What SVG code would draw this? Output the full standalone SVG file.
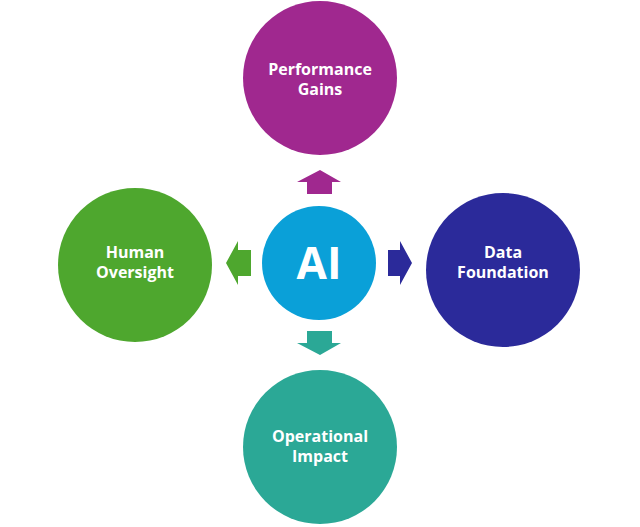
<svg xmlns="http://www.w3.org/2000/svg" width="640" height="527" viewBox="0 0 640 527">
<style>
.t{font-family:"Open Sans","Liberation Sans",sans-serif;font-weight:bold;font-size:16px;fill:#fff;text-anchor:middle}
</style>
<rect width="640" height="527" fill="#fff"/>
<g id="connectors">
<polygon points="320,170 341,182 332,182 332,194 307,194 307,182 297,182" fill="#A0288F"/>
<polygon points="226,263 238,241 238,250 251,250 251,276 238,276 238,285" fill="#4EA72E"/>
<polygon points="412,263 400,241 400,250 388,250 388,276 400,276 400,285" fill="#2B2A9A"/>
<polygon points="320,355 341,343 332,343 332,331 307,331 307,343 297,343" fill="#2BA896"/>
</g>
<g id="ai"><circle cx="319" cy="263" r="57" fill="#0AA0D8"/><text x="319" y="279" class="t" style="font-size:44px">AI</text></g>
<g id="performance"><circle cx="320" cy="78" r="77" fill="#A0288F"/><text class="t" x="320" y="75">Performance</text><text class="t" x="320" y="95">Gains</text></g>
<g id="human"><circle cx="135" cy="265" r="77" fill="#4EA72E"/><text class="t" x="135" y="258">Human</text><text class="t" x="135" y="278">Oversight</text></g>
<g id="data"><circle cx="503" cy="270" r="77" fill="#2B2A9A"/><text class="t" x="503" y="258">Data</text><text class="t" x="503" y="278">Foundation</text></g>
<g id="operational"><circle cx="320" cy="447" r="77" fill="#2BA896"/><text class="t" x="320" y="442">Operational</text><text class="t" x="320" y="462">Impact</text></g>
</svg>
